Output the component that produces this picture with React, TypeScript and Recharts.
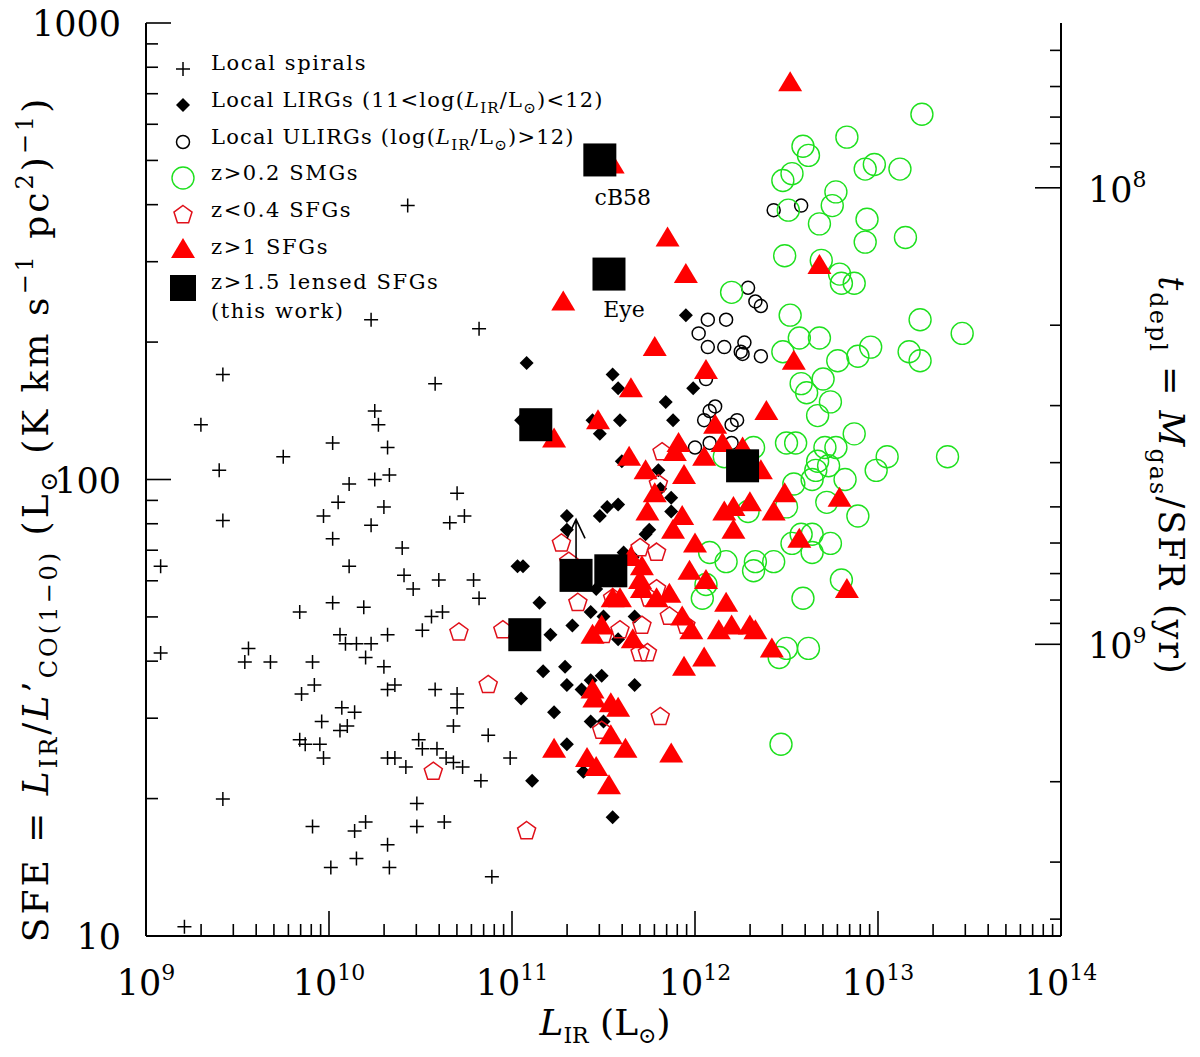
import React from 'react';
import { ScatterChart, Scatter, XAxis, YAxis } from 'recharts';

type Pair = [number, number];

// [log10(L_IR / Lsun), log10(SFE)]
const localSpirals: Pair[] = [
  [10.43, 2.60], [10.23, 2.35], [10.82, 2.33], [9.42, 2.23], [10.58, 2.21], [9.30, 2.12], [10.25, 2.15],
  [10.27, 2.12], [10.02, 2.08], [9.75, 2.05], [10.32, 2.07], [9.40, 2.02], [10.11, 1.99], [10.25, 2.00],
  [10.33, 2.01], [10.70, 1.97], [10.05, 1.95], [10.30, 1.94], [9.97, 1.92], [10.66, 1.905], [10.74, 1.92],
  [9.42, 1.91], [10.23, 1.90], [10.02, 1.87], [10.40, 1.85], [9.08, 1.81], [10.11, 1.81], [10.41, 1.79],
  [10.46, 1.76], [10.60, 1.78], [10.79, 1.78], [10.82, 1.74], [10.02, 1.73], [9.84, 1.71], [10.19, 1.72],
  [10.62, 1.71], [10.56, 1.70], [10.51, 1.67], [10.32, 1.66], [10.06, 1.66], [10.09, 1.64], [10.15, 1.64],
  [10.23, 1.64], [9.08, 1.62], [9.56, 1.63], [9.54, 1.60], [9.68, 1.60], [9.91, 1.60], [10.20, 1.61],
  [10.30, 1.59], [9.92, 1.55], [9.85, 1.53], [10.32, 1.54], [10.36, 1.55], [10.58, 1.54], [10.70, 1.53],
  [10.70, 1.50], [10.07, 1.50], [10.14, 1.49], [9.96, 1.47], [10.06, 1.45], [10.10, 1.46], [10.68, 1.46],
  [10.87, 1.44], [9.84, 1.43], [9.87, 1.42], [9.95, 1.42], [9.97, 1.39], [10.49, 1.43], [10.51, 1.41],
  [10.59, 1.41], [10.32, 1.39], [10.36, 1.39], [10.42, 1.37], [10.64, 1.39], [10.68, 1.38], [10.73, 1.37],
  [10.99, 1.39], [10.83, 1.34], [9.42, 1.30], [10.48, 1.29], [9.91, 1.24], [10.14, 1.23], [10.20, 1.25],
  [10.48, 1.24], [10.63, 1.25], [10.32, 1.20], [10.15, 1.17], [10.01, 1.15], [10.33, 1.15], [10.89, 1.13],
  [9.21, 1.02],
];

const localLirgs: Pair[] = [
  [11.95, 2.36], [11.08, 2.255], [11.55, 2.23], [11.58, 2.20], [11.99, 2.20], [11.84, 2.17], [11.88, 2.13],
  [11.59, 2.13], [11.44, 2.13], [11.48, 2.10], [11.05, 2.13], [11.60, 2.04], [11.80, 2.02], [11.87, 1.96],
  [11.81, 1.98], [11.52, 1.94], [11.58, 1.945], [11.87, 1.93], [11.30, 1.92], [11.48, 1.92], [11.75, 1.89],
  [11.73, 1.88], [11.61, 1.84], [11.03, 1.81], [11.06, 1.81], [11.15, 1.73], [11.43, 1.71], [11.50, 1.70],
  [11.67, 1.70], [11.33, 1.68], [11.21, 1.66], [11.58, 1.65], [11.17, 1.58], [11.29, 1.59], [11.30, 1.55],
  [11.38, 1.54], [11.43, 1.56], [11.49, 1.57], [11.67, 1.55], [11.05, 1.52], [11.23, 1.49], [11.43, 1.47],
  [11.50, 1.47], [11.30, 1.42], [11.39, 1.36], [11.11, 1.34], [11.55, 1.26], [11.30, 1.89], [11.46, 1.76],
  [11.66, 1.83],
];

const localUlirgs: Pair[] = [
  [12.43, 2.59], [12.58, 2.60], [12.29, 2.42], [12.33, 2.39], [12.36, 2.38], [12.07, 2.35], [12.17, 2.35],
  [12.02, 2.32], [12.07, 2.29], [12.16, 2.29], [12.27, 2.30], [12.25, 2.28], [12.26, 2.275], [12.36, 2.27],
  [12.06, 2.22], [12.11, 2.16], [12.08, 2.15], [12.05, 2.13], [12.23, 2.13], [12.20, 2.12], [12.00, 2.07],
  [12.08, 2.08], [12.20, 2.08],
];

const smgs: Pair[] = [
  [13.24, 2.80], [12.83, 2.75], [12.59, 2.73], [12.62, 2.71], [12.53, 2.67], [12.48, 2.655], [12.93, 2.68],
  [12.98, 2.69], [13.12, 2.68], [12.77, 2.63], [12.75, 2.60], [12.51, 2.59], [12.68, 2.56], [12.94, 2.57],
  [12.93, 2.52], [13.15, 2.53], [12.49, 2.49], [12.69, 2.48], [12.79, 2.45], [12.80, 2.43], [12.87, 2.43],
  [12.52, 2.36], [13.23, 2.35], [13.46, 2.32], [12.57, 2.31], [12.68, 2.31], [12.48, 2.28], [12.78, 2.26],
  [12.89, 2.27], [12.96, 2.29], [13.17, 2.28], [13.23, 2.26], [12.20, 2.41], [12.58, 2.21], [12.61, 2.19],
  [12.70, 2.22], [12.74, 2.17], [12.67, 2.14], [12.87, 2.10], [12.50, 2.08], [12.55, 2.08], [12.71, 2.07],
  [12.77, 2.07], [12.67, 2.04], [12.73, 2.03], [12.66, 2.02], [12.64, 2.00], [12.82, 2.00], [12.99, 2.02],
  [13.05, 2.05], [13.38, 2.05], [12.54, 1.99], [12.72, 1.95], [12.89, 1.92], [12.50, 1.94], [12.29, 1.93],
  [12.32, 2.07], [12.58, 1.88], [12.64, 1.88], [12.53, 1.86], [12.74, 1.86], [12.64, 1.84], [12.33, 1.82],
  [12.32, 1.80], [12.43, 1.82], [12.80, 1.78], [12.59, 1.74], [12.50, 1.63], [12.46, 1.61], [12.62, 1.63],
  [12.08, 1.84], [12.17, 1.82], [12.04, 1.74], [12.06, 1.77], [12.16, 2.05], [12.47, 1.42],
];

const lowzSfgs: Pair[] = [
  [11.82, 2.06], [11.80, 1.99], [11.27, 1.86], [11.31, 1.82], [11.70, 1.85], [11.79, 1.84], [11.36, 1.73],
  [11.55, 1.74], [11.79, 1.76], [11.75, 1.74], [11.86, 1.70], [11.95, 1.68], [10.95, 1.67], [10.71, 1.665],
  [11.59, 1.67], [11.71, 1.68], [11.50, 1.66], [11.70, 1.62], [11.74, 1.62], [10.87, 1.55], [11.81, 1.48],
  [11.49, 1.45], [10.57, 1.36], [11.08, 1.23],
];

const highzSfgs: Pair[] = [
  [12.52, 2.87], [12.68, 2.47], [12.54, 2.26], [11.55, 2.69], [11.85, 2.53], [11.95, 2.45], [11.28, 2.39],
  [11.78, 2.29], [12.06, 2.24], [11.65, 2.20], [11.47, 2.13], [11.23, 2.09], [12.39, 2.15], [12.11, 2.12],
  [11.91, 2.08], [11.89, 2.06], [12.15, 2.08], [12.05, 2.05], [11.64, 2.05], [11.73, 2.02], [11.94, 2.01],
  [11.78, 1.97], [12.30, 1.95], [12.16, 1.93], [12.21, 1.94], [11.74, 1.93], [11.93, 1.92], [12.43, 1.93],
  [12.26, 2.07], [12.36, 2.02], [11.88, 1.89], [12.00, 1.86], [12.21, 1.89], [11.65, 1.83], [11.71, 1.81],
  [11.70, 1.78], [11.71, 1.76], [11.97, 1.80], [12.06, 1.78], [11.55, 1.74], [11.59, 1.74], [11.79, 1.74],
  [11.86, 1.75], [11.93, 1.70], [11.98, 1.67], [12.17, 1.73], [12.20, 1.68], [12.13, 1.67], [12.30, 1.68],
  [12.33, 1.67], [12.42, 1.63], [11.49, 1.68], [11.44, 1.66], [11.66, 1.65], [11.94, 1.59], [12.05, 1.61],
  [11.44, 1.54], [11.45, 1.52], [11.54, 1.51], [11.58, 1.50], [11.54, 1.44], [11.62, 1.41], [11.87, 1.40],
  [11.23, 1.41], [11.41, 1.39], [11.46, 1.37], [11.53, 1.33], [12.49, 1.97], [12.79, 1.96], [12.57, 1.87],
  [12.83, 1.76],
];

// this work; names label the two famous sources, limit marks the lower limit
const lensedSfgs = [
  { x: 11.48, y: 2.70, name: 'cB58' },
  { x: 11.53, y: 2.45, name: 'Eye' },
  { x: 11.13, y: 2.12 },
  { x: 12.26, y: 2.03 },
  { x: 11.35, y: 1.79, limit: true },
  { x: 11.54, y: 1.80 },
  { x: 11.07, y: 1.66 },
];

const legendLabels = [
  'Local spirals',
  'Local LIRGs',
  'Local ULIRGs',
  'z>0.2 SMGs',
  'z<0.4 SFGs',
  'z>1 SFGs',
  'z>1.5 lensed SFGs',
];

const xDecades = [9, 10, 11, 12, 13, 14];
const sfeDecades = [1, 2, 3];
const tdeplDecades = [7, 8, 9];
const minorSteps = [1, 2, 3, 4, 5, 6, 7, 8, 9];

// log t_depl + log SFE is constant (conversion factor of the right axis)
const LOG_TDEPL_PLUS_SFE = 10.639;

const FONT = '"DejaVu Serif", serif';
const RED = '#ff0000';
const GREEN = '#1ee01e';

const logTicks = (decades: number[], lo: number, hi: number) =>
  decades
    .flatMap((d) => minorSteps.map((k) => d + Math.log10(k)))
    .filter((v) => v >= lo - 1e-6 && v <= hi + 1e-6);

const isMajor = (v: number) => Math.abs(v - Math.round(v)) < 1e-6;
const toPoints = (arr: Pair[]) => arr.map(([x, y]) => ({ x, y }));

const xTicks = logTicks(xDecades, 9, 14);
const sfeTicks = logTicks(sfeDecades, 1, 3);
const tdeplDomain = [LOG_TDEPL_PLUS_SFE - 3, LOG_TDEPL_PLUS_SFE - 1];
const tdeplTicks = logTicks(tdeplDecades, tdeplDomain[0], tdeplDomain[1]);

// ---- marker shapes ----
const Plus = ({ cx, cy }: any) => (
  <path d={`M${cx - 7},${cy}H${cx + 7}M${cx},${cy - 7}V${cy + 7}`} stroke="#000" strokeWidth={1.5} fill="none" />
);
const Diamond = ({ cx, cy }: any) => (
  <path d={`M${cx},${cy - 7}L${cx + 7},${cy}L${cx},${cy + 7}L${cx - 7},${cy}Z`} fill="#000" />
);
const OpenCircle = ({ cx, cy }: any) => <circle cx={cx} cy={cy} r={6.5} fill="none" stroke="#000" strokeWidth={1.5} />;
const GreenCircle = ({ cx, cy }: any) => <circle cx={cx} cy={cy} r={11} fill="none" stroke={GREEN} strokeWidth={1.4} />;
const Pentagon = ({ cx, cy }: any) => {
  const pts = [0, 1, 2, 3, 4]
    .map((i) => {
      const a = ((-90 + 72 * i) * Math.PI) / 180;
      return `${cx + 9.5 * Math.cos(a)},${cy + 9.5 * Math.sin(a)}`;
    })
    .join(' ');
  return <polygon points={pts} fill="none" stroke="#e0101a" strokeWidth={1.5} />;
};
const Triangle = ({ cx, cy }: any) => (
  <path d={`M${cx},${cy - 11}L${cx + 12},${cy + 9}L${cx - 12},${cy + 9}Z`} fill={RED} />
);

const squareLabelOffset: Record<string, [number, number]> = { cB58: [23, 45], Eye: [15, 43] };

const Square = ({ cx, cy, payload, side }: any) => {
  const s = side || 33;
  const h = s / 2;
  const off = payload && payload.name ? squareLabelOffset[payload.name] : null;
  return (
    <g>
      <rect x={cx - h} y={cy - h} width={s} height={s} fill="#000" />
      {payload && payload.limit && (
        <path
          d={`M${cx},${cy - h}V${cy - 56}M${cx - 9},${cy - 37}L${cx},${cy - 56}L${cx + 9},${cy - 37}`}
          stroke="#000"
          strokeWidth={1.6}
          fill="none"
        />
      )}
      {off && (
        <text x={cx + off[0]} y={cy + off[1]} textAnchor="middle" fontFamily={FONT} fontSize={22} fill="#000">
          {payload.name}
        </text>
      )}
    </g>
  );
};

// ---- ticks (drawn inward, labels only on decades) ----
const BottomTick = ({ x, y, payload }: any) => {
  const v = payload.value;
  const major = isMajor(v);
  return (
    <g>
      <line x1={x} y1={y} x2={x} y2={y - (major ? 25 : 12)} stroke="#000" strokeWidth={1.6} />
      {major && (
        <text x={x} y={y + 59} textAnchor="middle" fontFamily={FONT} fontSize={35} fill="#000">
          10<tspan dy={-15} fontSize={22}>{Math.round(v)}</tspan>
        </text>
      )}
    </g>
  );
};

const TopTick = ({ x, y, payload }: any) => (
  <line x1={x} y1={y} x2={x} y2={y + (isMajor(payload.value) ? 25 : 12)} stroke="#000" strokeWidth={1.6} />
);

const LeftTick = ({ x, y, payload }: any) => {
  const v = payload.value;
  const major = isMajor(v);
  return (
    <g>
      <line x1={x} y1={y} x2={x + (major ? 25 : 12)} y2={y} stroke="#000" strokeWidth={1.6} />
      {major && (
        <text x={x - 25} y={y + 13} textAnchor="end" fontFamily={FONT} fontSize={35} fill="#000">
          {String(Math.round(Math.pow(10, v)))}
        </text>
      )}
    </g>
  );
};

const RightTick = ({ x, y, payload }: any) => {
  const v = payload.value;
  const major = isMajor(v);
  return (
    <g>
      <line x1={x} y1={y} x2={x - (major ? 26 : 11)} y2={y} stroke="#000" strokeWidth={1.6} />
      {major && (
        <text x={x + 27} y={y + 14} textAnchor="start" fontFamily={FONT} fontSize={35} fill="#000">
          10<tspan dy={-15} fontSize={22}>{Math.round(v)}</tspan>
        </text>
      )}
    </g>
  );
};

// the chart is pinned to the page's top-left corner, so these are page pixels
const W = 1200;
const H = 1057;

const Overlay = () => {
  const sx = 183;
  const tx = 211;
  const rows = [70, 107, 144, 180, 217, 254, 289];
  const sub = { fontSize: 15 };
  return (
    <svg
      width={W}
      height={H}
      style={{ position: 'absolute', left: 0, top: 0, pointerEvents: 'none', overflow: 'visible' }}
    >
      {/* legend */}
      <Plus cx={sx} cy={69} />
      <Diamond cx={sx} cy={105} />
      <OpenCircle cx={sx} cy={142} />
      <GreenCircle cx={sx} cy={178} />
      <Pentagon cx={sx} cy={215} />
      <Triangle cx={sx} cy={249} />
      <Square cx={sx} cy={288} side={26} />
      <g fontFamily={FONT} fontSize={21} letterSpacing={1.2} fill="#000">
        <text x={tx} y={rows[0]} letterSpacing={1.6}>{legendLabels[0]}</text>
        <text x={tx} y={rows[1]}>
          {legendLabels[1]} (11&lt;log(<tspan fontStyle="italic">L</tspan>
          <tspan dy={6} {...sub}>IR</tspan>
          <tspan dy={-6}>/L</tspan>
          <tspan dy={6} {...sub}>⊙</tspan>
          <tspan dy={-6}>)&lt;12)</tspan>
        </text>
        <text x={tx} y={rows[2]}>
          {legendLabels[2]} (log(<tspan fontStyle="italic">L</tspan>
          <tspan dy={6} {...sub}>IR</tspan>
          <tspan dy={-6}>/L</tspan>
          <tspan dy={6} {...sub}>⊙</tspan>
          <tspan dy={-6}>)&gt;12)</tspan>
        </text>
        <text x={tx} y={rows[3]} letterSpacing={1.6}>{legendLabels[3]}</text>
        <text x={tx} y={rows[4]} letterSpacing={1.6}>{legendLabels[4]}</text>
        <text x={tx} y={rows[5]} letterSpacing={1.6}>{legendLabels[5]}</text>
        <text x={tx} y={rows[6]} letterSpacing={1.6}>{legendLabels[6]}</text>
        <text x={tx} y={318} letterSpacing={1.6}>(this work)</text>
      </g>

      {/* x axis title */}
      <text x={605} y={1035} textAnchor="middle" fontFamily={FONT} fontSize={36} fill="#000">
        <tspan fontStyle="italic">L</tspan>
        <tspan dy={8} fontSize={22}>IR</tspan>
        <tspan dy={-8}>{'  (L'}</tspan>
        <tspan dy={8} fontSize={22}>⊙</tspan>
        <tspan dy={-8}>)</tspan>
      </text>

      {/* left y axis title */}
      <text
        transform="translate(48,519) rotate(-90)"
        textAnchor="middle"
        fontFamily={FONT}
        fontSize={36}
        letterSpacing={3}
        fill="#000"
      >
        {'SFE = '}
        <tspan fontStyle="italic">L</tspan>
        <tspan dy={9} fontSize={24}>IR</tspan>
        <tspan dy={-9}>/</tspan>
        <tspan fontStyle="italic">L</tspan>
        <tspan>’</tspan>
        <tspan dy={9} fontSize={24}>CO(1−0)</tspan>
        <tspan dy={-9}>{'  (L'}</tspan>
        <tspan dy={9} fontSize={24}>⊙</tspan>
        <tspan dy={-9}>{'  (K  km  s'}</tspan>
        <tspan dy={-15} fontSize={24}>−1</tspan>
        <tspan dy={15}>{'  pc'}</tspan>
        <tspan dy={-15} fontSize={24}>2</tspan>
        <tspan dy={15}>)</tspan>
        <tspan dy={-15} fontSize={24}>−1</tspan>
        <tspan dy={15}>)</tspan>
      </text>

      {/* right y axis title */}
      <text
        transform="translate(1159,476) rotate(90)"
        textAnchor="middle"
        fontFamily={FONT}
        fontSize={35}
        letterSpacing={2}
        fill="#000"
      >
        <tspan fontStyle="italic">t</tspan>
        <tspan dy={9} fontSize={24}>depl</tspan>
        <tspan dy={-9}>{' = '}</tspan>
        <tspan fontStyle="italic">M</tspan>
        <tspan dy={9} fontSize={24}>gas</tspan>
        <tspan dy={-9}>/SFR  (yr)</tspan>
      </text>
    </svg>
  );
};

const App: React.FC = () => {
  return (
    <div style={{ position: 'absolute', left: 0, top: 0, width: W, height: H, background: '#fff' }}>
      <ScatterChart width={W} height={H} margin={{ top: 23, right: 0, bottom: 0, left: 0 }}>
        <XAxis
          xAxisId="b"
          type="number"
          dataKey="x"
          domain={[9, 14]}
          ticks={xTicks}
          interval={0}
          height={121}
          tickSize={0}
          tickMargin={0}
          tickLine={false}
          axisLine={{ stroke: '#000', strokeWidth: 2 }}
          tick={(p: any) => <BottomTick {...p} />}
          allowDataOverflow
        />
        <XAxis
          xAxisId="t"
          orientation="top"
          type="number"
          domain={[9, 14]}
          ticks={xTicks}
          interval={0}
          height={0}
          tickSize={0}
          tickMargin={0}
          tickLine={false}
          axisLine={{ stroke: '#000', strokeWidth: 2 }}
          tick={(p: any) => <TopTick {...p} />}
          allowDataOverflow
        />
        <YAxis
          yAxisId="l"
          type="number"
          dataKey="y"
          domain={[1, 3]}
          ticks={sfeTicks}
          interval={0}
          width={146}
          tickSize={0}
          tickMargin={0}
          tickLine={false}
          axisLine={{ stroke: '#000', strokeWidth: 2 }}
          tick={(p: any) => <LeftTick {...p} />}
          allowDataOverflow
        />
        <YAxis
          yAxisId="r"
          orientation="right"
          type="number"
          domain={tdeplDomain}
          reversed
          ticks={tdeplTicks}
          interval={0}
          width={139}
          tickSize={0}
          tickMargin={0}
          tickLine={false}
          axisLine={{ stroke: '#000', strokeWidth: 2 }}
          tick={(p: any) => <RightTick {...p} />}
          allowDataOverflow
        />
        <Scatter xAxisId="b" yAxisId="l" data={toPoints(localSpirals)} shape={Plus} isAnimationActive={false} />
        <Scatter xAxisId="b" yAxisId="l" data={toPoints(localLirgs)} shape={Diamond} isAnimationActive={false} />
        <Scatter xAxisId="b" yAxisId="l" data={toPoints(localUlirgs)} shape={OpenCircle} isAnimationActive={false} />
        <Scatter xAxisId="b" yAxisId="l" data={toPoints(smgs)} shape={GreenCircle} isAnimationActive={false} />
        <Scatter xAxisId="b" yAxisId="l" data={toPoints(lowzSfgs)} shape={Pentagon} isAnimationActive={false} />
        <Scatter xAxisId="b" yAxisId="l" data={toPoints(highzSfgs)} shape={Triangle} isAnimationActive={false} />
        <Scatter xAxisId="b" yAxisId="l" data={lensedSfgs} shape={Square} isAnimationActive={false} />
      </ScatterChart>
      <Overlay />
    </div>
  );
};

export default App;
